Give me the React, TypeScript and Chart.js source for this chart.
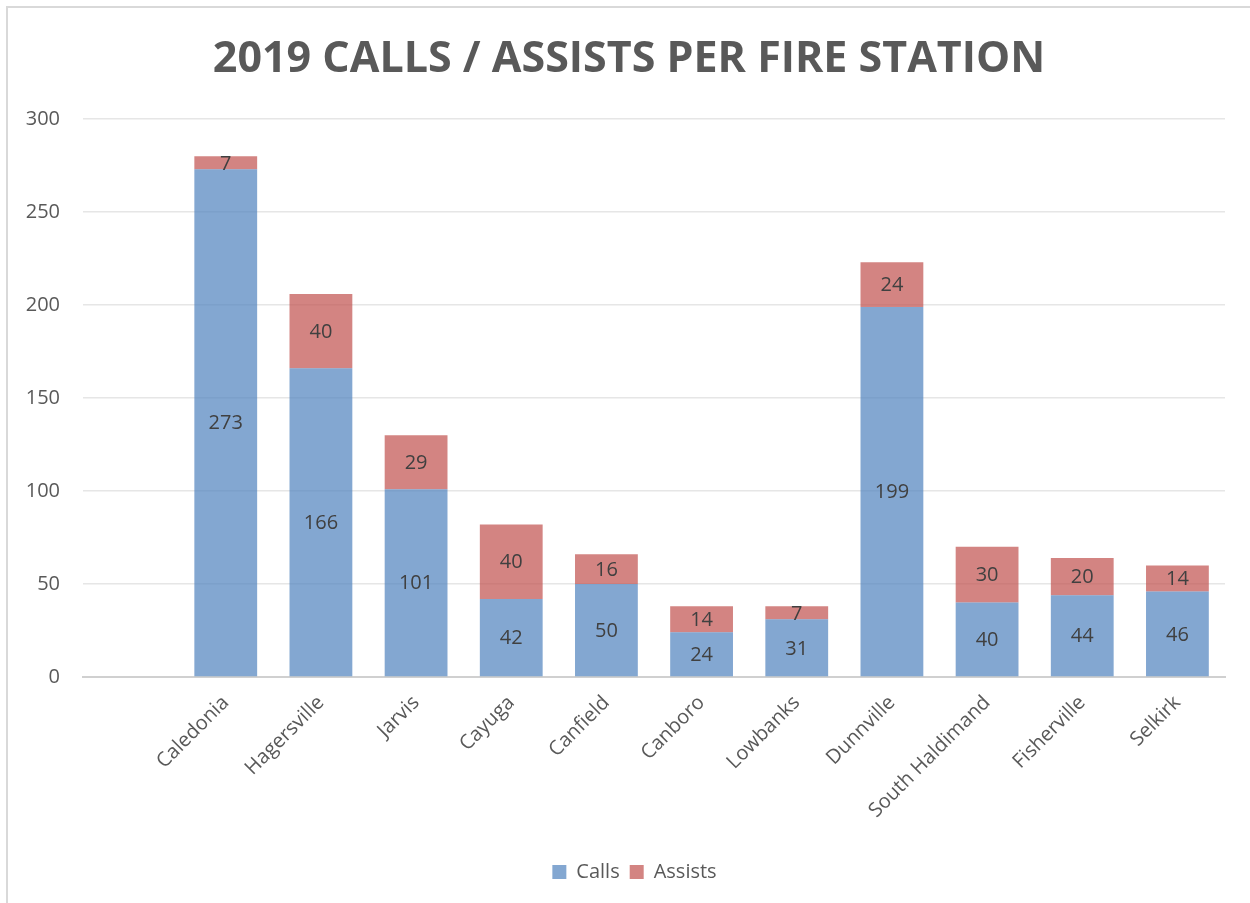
import React, { useEffect, useRef } from "react";
import { Chart, registerables } from "chart.js";

Chart.register(...registerables);

const categories = ["", "Caledonia", "Hagersville", "Jarvis", "Cayuga", "Canfield", "Canboro", "Lowbanks", "Dunnville", "South Haldimand", "Fisherville", "Selkirk"];
const calls = [null, 273, 166, 101, 42, 50, 24, 31, 199, 40, 44, 46];
const assists = [null, 7, 40, 29, 40, 16, 14, 7, 24, 30, 20, 14];
const titleText = "2019 CALLS / ASSISTS PER FIRE STATION";
const yMin = 0;
const yMax = 300;
const yStep = 50;

const FONT = "'Open Sans', 'DejaVu Sans', sans-serif";

const labelPlugin = {
  id: "segLabels",
  afterDatasetsDraw(chart: any) {
    const ctx = chart.ctx;
    ctx.save();
    ctx.fillStyle = "#404040";
    ctx.font = `20px ${FONT}`;
    ctx.textAlign = "center";
    ctx.textBaseline = "middle";
    chart.data.datasets.forEach((ds: any, di: number) => {
      const meta = chart.getDatasetMeta(di);
      meta.data.forEach((el: any, i: number) => {
        const v = ds.data[i];
        if (v === null || v === undefined) return;
        const props = el.getProps(["x", "y", "base"], true);
        ctx.fillText(String(v), props.x, (props.y + props.base) / 2 + 1);
      });
    });
    ctx.restore();
  },
};

const shiftPlugin = {
  id: "shiftBoxes",
  afterLayout(chart: any) {
    if (chart.titleBlock) {
      chart.titleBlock.left += 16.5;
      chart.titleBlock.right += 16.5;
    }
    if (chart.legend) {
      chart.legend.left += 22;
      chart.legend.right += 22;
    }
  },
};

export default function App() {
  const ref = useRef<HTMLCanvasElement | null>(null);
  useEffect(() => {
    if (!ref.current) return;
    const chart = new Chart(ref.current, {
      type: "bar",
      data: {
        labels: categories,
        datasets: [
          { label: "Calls", data: calls as any, backgroundColor: "rgba(79,129,189,0.7)", borderWidth: 0, stack: "s" },
          { label: "Assists", data: assists as any, backgroundColor: "rgba(192,80,77,0.7)", borderWidth: 0, stack: "s" },
        ],
      },
      plugins: [labelPlugin, shiftPlugin],
      options: {
        animation: false,
        responsive: false,
        maintainAspectRatio: false,
        layout: { padding: { left: 0, right: 25, top: 0, bottom: 11 } },
        datasets: { bar: { barPercentage: 1, categoryPercentage: 0.66 } },
        plugins: {
          title: {
            display: true,
            text: titleText,
            color: "#595959",
            font: { family: FONT, size: 43, weight: "bold" },
            padding: { top: 33.5, bottom: 34 },
          },
          legend: {
            position: "bottom",
            labels: {
              color: "#595959",
              font: { family: FONT, size: 20 },
              boxWidth: 14,
              boxHeight: 14,
              padding: 10,
            },
          },
          tooltip: { enabled: false },
        },
        scales: {
          x: {
            stacked: true,
            grid: { display: false, drawTicks: false },
            border: { display: true, color: "#d0d0d0", width: 2 },
            ticks: {
              color: "#595959",
              font: { family: FONT, size: 20 },
              maxRotation: 45,
              minRotation: 45,
              padding: 14,
              autoSkip: false,
            },
            afterFit(scale: any) {
              scale.height = 175;
            },
          },
          y: {
            stacked: true,
            min: yMin,
            max: yMax,
            grid: { color: "#e6e6e6", lineWidth: 1.5, drawTicks: false },
            border: { display: false },
            ticks: {
              stepSize: yStep,
              color: "#595959",
              font: { family: FONT, size: 20 },
              padding: 23,
            },
            afterFit(scale: any) {
              scale.width = 83;
            },
          },
        },
      },
    });
    return () => chart.destroy();
  }, []);

  return (
    <div style={{ position: "fixed", left: 0, top: 0, width: 1250, height: 903, overflow: "hidden", background: "#fff" }}>
      <div
        style={{
          position: "absolute",
          left: 6,
          top: 6,
          width: 1270,
          height: 920,
          border: "2px solid #d9d9d9",
          boxSizing: "border-box",
        }}
      />
      <canvas ref={ref} width={1250} height={903} style={{ position: "absolute", left: 0, top: 0, width: 1250, height: 903 }} />
    </div>
  );
}
